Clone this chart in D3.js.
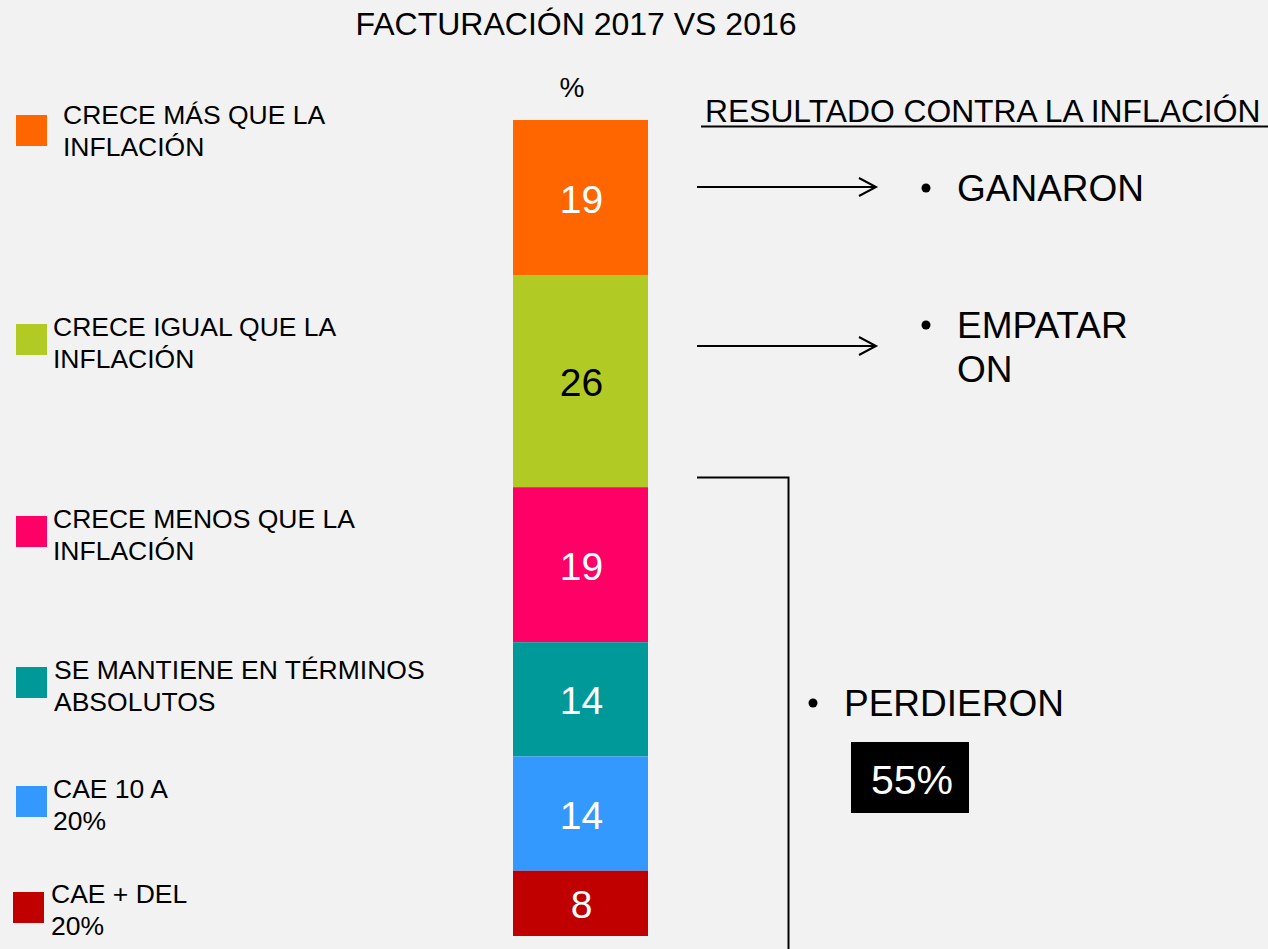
<!DOCTYPE html>
<html>
<head>
<meta charset="utf-8">
<script src="https://cdn.jsdelivr.net/npm/d3@7"></script>
<style>
  html, body { margin: 0; padding: 0; background: #f2f2f2; }
  svg { display: block; font-family: "Liberation Sans", Arial, sans-serif; }
</style>
</head>
<body>
<svg id="chart"></svg>
<script>
(function() {

  // categories (first item = top of the bar)
  const categories = [
    'CRECE MÁS QUE LA INFLACIÓN',
    'CRECE IGUAL QUE LA INFLACIÓN',
    'CRECE MENOS QUE LA INFLACIÓN',
    'SE MANTIENE EN TÉRMINOS ABSOLUTOS',
    'CAE 10 A 20%',
    'CAE + DEL 20%'
  ];
  // legend text split on two lines, as in the picture
  const legendLines = [
    ['CRECE MÁS QUE LA', 'INFLACIÓN'],
    ['CRECE IGUAL QUE LA', 'INFLACIÓN'],
    ['CRECE MENOS QUE LA', 'INFLACIÓN'],
    ['SE MANTIENE EN TÉRMINOS', 'ABSOLUTOS'],
    ['CAE 10 A', '20%'],
    ['CAE + DEL', '20%']
  ];
  const values = [19, 26, 19, 14, 14, 8];
  const colors = ['#ff6600', '#b2cb24', '#ff0066', '#009999', '#3399ff', '#c00000'];
  const labelColors = ['#ffffff', '#000000', '#ffffff', '#ffffff', '#ffffff', '#ffffff'];

  const title = 'FACTURACIÓN 2017 VS 2016';
  const unitLabel = '%';
  const resultTitle = 'RESULTADO CONTRA LA INFLACIÓN';
  const lostShare = '55%';

  const width = 1268;
  const height = 949;

  const svg = d3.select('#chart')
    .attr('width', width)
    .attr('height', height);

  svg.append('rect')
    .attr('width', width)
    .attr('height', height)
    .attr('fill', '#f2f2f2');

  // stack
  const rows = categories.map(function(c, i) {
    return { name: c, value: values[i], color: colors[i], labelColor: labelColors[i], index: i };
  });
  var acc = 0;
  rows.forEach(function(d) {
    d.y0 = acc;
    acc += d.value;
    d.y1 = acc;
  });

  const y = d3.scaleLinear().domain([0, acc]).range([120, 936]);
  const x = d3.scaleBand().domain(['total']).range([513, 648]).padding(0);

  // title
  svg.append('text')
    .attr('x', 576)
    .attr('y', 35)
    .attr('text-anchor', 'middle')
    .style('font-size', '32px')
    .text(title);

  svg.append('text')
    .attr('x', 572)
    .attr('y', 97)
    .attr('text-anchor', 'middle')
    .style('font-size', '28px')
    .text(unitLabel);

  // bar
  const seg = svg.append('g').attr('class', 'bar');
  seg.selectAll('rect')
    .data(rows)
    .enter()
    .append('rect')
    .attr('x', x('total'))
    .attr('width', x.bandwidth())
    .attr('y', function(d) { return y(d.y0); })
    .attr('height', function(d) { return y(d.y1) - y(d.y0); })
    .attr('fill', function(d) { return d.color; });

  seg.selectAll('text')
    .data(rows)
    .enter()
    .append('text')
    .attr('x', x('total') + x.bandwidth() / 2 + 1)
    .attr('y', function(d) { return (y(d.y0) + y(d.y1)) / 2 + 15; })
    .attr('text-anchor', 'middle')
    .style('font-size', '39px')
    .attr('fill', function(d) { return d.labelColor; })
    .text(function(d) { return d.value; });

  // legend (positions follow the slide layout)
  const legendPos = [
    { sx: 16, sy: 115, tx: 63, ty: 124 },
    { sx: 16, sy: 324, tx: 53, ty: 336 },
    { sx: 16, sy: 516, tx: 53, ty: 528 },
    { sx: 16, sy: 667, tx: 54, ty: 679 },
    { sx: 16, sy: 786, tx: 53, ty: 798 },
    { sx: 13, sy: 892, tx: 51, ty: 903 }
  ];

  const legend = svg.append('g').attr('class', 'legend');
  const items = legend.selectAll('g')
    .data(rows)
    .enter()
    .append('g');

  items.append('rect')
    .attr('x', function(d) { return legendPos[d.index].sx; })
    .attr('y', function(d) { return legendPos[d.index].sy; })
    .attr('width', 31)
    .attr('height', 31)
    .attr('fill', function(d) { return d.color; });

  items.append('text')
    .style('font-size', '26.5px')
    .selectAll('tspan')
    .data(function(d) {
      return legendLines[d.index].map(function(l, k) { return { t: l, k: k, p: legendPos[d.index] }; });
    })
    .enter()
    .append('tspan')
    .attr('x', function(d) { return d.p.tx; })
    .attr('y', function(d) { return d.p.ty + d.k * 32; })
    .text(function(d) { return d.t; });

  // right side annotations
  const ann = svg.append('g').attr('class', 'annotations');

  ann.append('text')
    .attr('x', 705)
    .attr('y', 122)
    .style('font-size', '31.8px')
    .text(resultTitle);
  ann.append('line')
    .attr('x1', 701).attr('x2', 1268)
    .attr('y1', 126.5).attr('y2', 126.5)
    .attr('stroke', '#000').attr('stroke-width', 2.2);

  const arrowY = [187, 346];
  arrowY.forEach(function(ay) {
    ann.append('line')
      .attr('x1', 697).attr('x2', 876)
      .attr('y1', ay).attr('y2', ay)
      .attr('stroke', '#000').attr('stroke-width', 2);
    ann.append('path')
      .attr('d', 'M' + 859 + ',' + (ay - 9) + 'L' + 876 + ',' + ay + 'L' + 859 + ',' + (ay + 9))
      .attr('fill', 'none')
      .attr('stroke', '#000')
      .attr('stroke-width', 2);
  });

  function bullet(bx, by, lines) {
    ann.append('circle')
      .attr('cx', bx).attr('cy', by - 13).attr('r', 4.5)
      .attr('fill', '#000');
    const t = ann.append('text').style('font-size', '37px');
    lines.forEach(function(l, k) {
      t.append('tspan')
        .attr('x', bx + 31)
        .attr('y', by + k * 44)
        .text(l);
    });
  }

  bullet(926, 201, ['GANARON']);
  bullet(926, 338, ['EMPATAR', 'ON']);
  bullet(813, 716, ['PERDIERON']);

  // bracket for the lower categories
  ann.append('path')
    .attr('d', 'M697,477.5H788.5V949')
    .attr('fill', 'none')
    .attr('stroke', '#000')
    .attr('stroke-width', 2);

  ann.append('rect')
    .attr('x', 851).attr('y', 742)
    .attr('width', 118).attr('height', 71)
    .attr('fill', '#000');
  ann.append('text')
    .attr('x', 912)
    .attr('y', 794)
    .attr('text-anchor', 'middle')
    .attr('fill', '#fff')
    .style('font-size', '41px')
    .text(lostShare);

})();
</script>
</body>
</html>
